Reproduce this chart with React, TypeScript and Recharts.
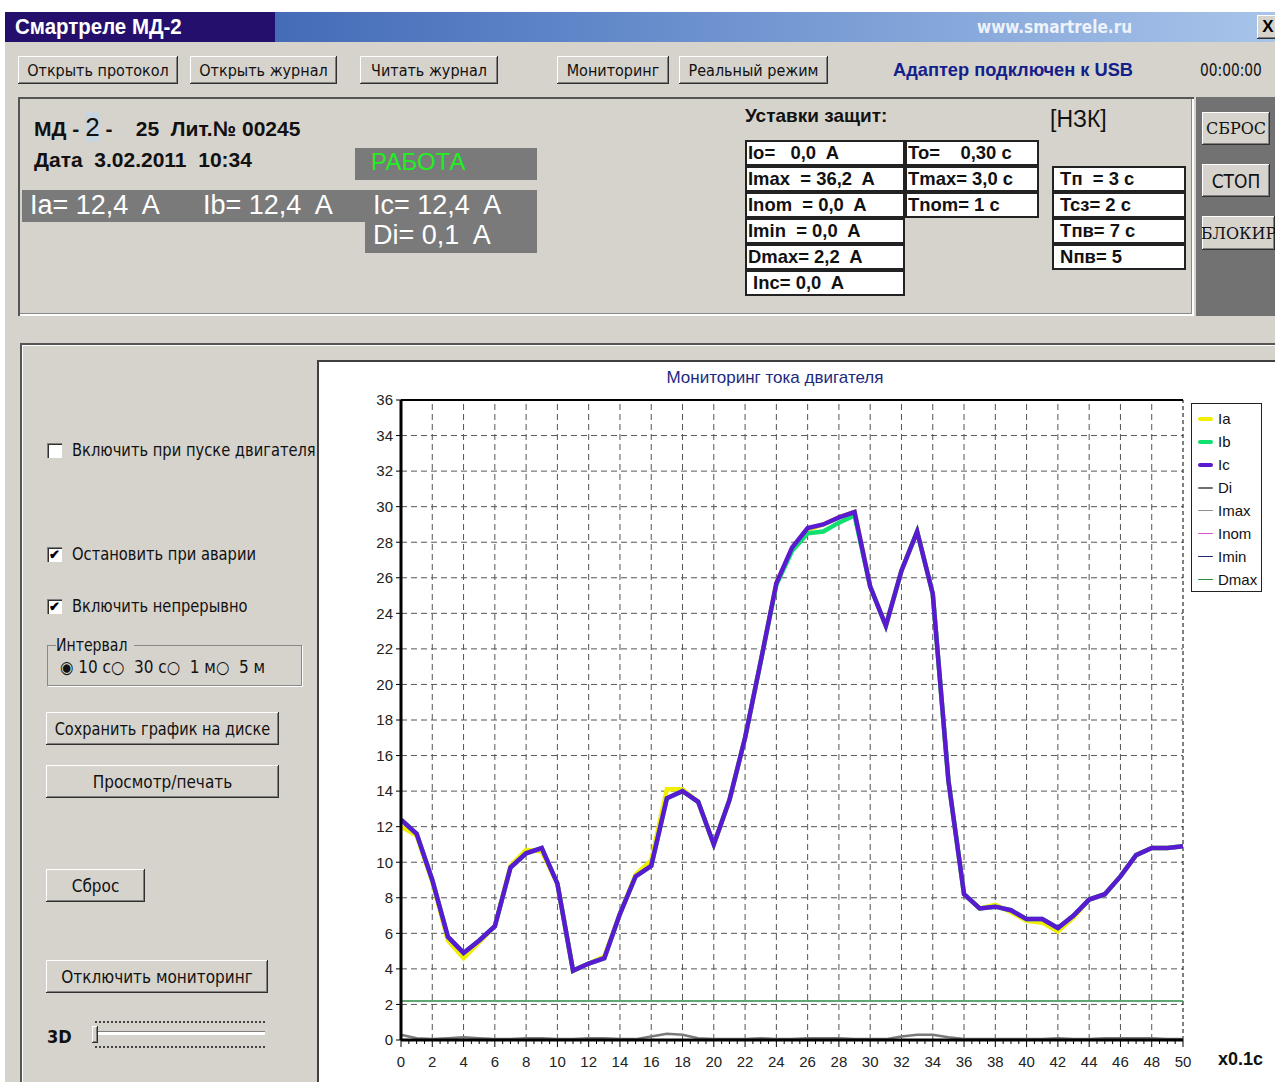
import React from 'react';
import { LineChart, Line, XAxis, YAxis, CartesianGrid, ReferenceLine } from 'recharts';

// time axis, x0.1 s
const T = [
  0, 1, 2, 3, 4, 5, 6, 7, 8, 9, 10, 11, 12, 13, 14, 15, 16, 17, 18, 19, 20, 21, 22, 23, 24, 25,
  26, 27, 28, 29, 30, 31, 32, 33, 34, 35, 36, 37, 38, 39, 40, 41, 42, 43, 44, 45, 46, 47, 48, 49, 50,
];
const IA = [
  12.0, 11.5, 8.9, 5.6, 4.6, 5.5, 6.4, 9.8, 10.7, 10.6, 8.8, 3.9, 4.3, 4.7, 7.1, 9.3, 10.1, 14.1, 14.1, 13.4,
  11.0, 13.5, 17.0, 21.3, 25.7, 27.6, 28.7, 29.0, 29.4, 29.7, 25.5, 23.3, 26.4, 28.6, 25.1, 14.6, 8.2, 7.4,
  7.6, 7.2, 6.7, 6.6, 6.1, 6.9, 7.9, 8.2, 9.2, 10.4, 10.8, 10.8, 10.9,
];
const IB = [
  12.4, 11.6, 9.0, 5.8, 4.9, 5.6, 6.4, 9.7, 10.5, 10.8, 8.8, 3.9, 4.3, 4.6, 7.1, 9.2, 9.8, 13.6, 14.0, 13.4,
  11.0, 13.5, 17.0, 21.3, 25.6, 27.5, 28.5, 28.6, 29.1, 29.5, 25.5, 23.3, 26.4, 28.6, 25.1, 14.6, 8.2, 7.4,
  7.5, 7.3, 6.8, 6.8, 6.3, 7.0, 7.9, 8.2, 9.2, 10.4, 10.8, 10.8, 10.9,
];
const IC = [
  12.4, 11.6, 9.0, 5.8, 4.9, 5.6, 6.4, 9.7, 10.5, 10.8, 8.8, 3.9, 4.3, 4.6, 7.1, 9.2, 9.8, 13.6, 14.0, 13.4,
  11.0, 13.5, 17.0, 21.3, 25.7, 27.7, 28.8, 29.0, 29.4, 29.7, 25.5, 23.3, 26.4, 28.6, 25.1, 14.6, 8.2, 7.4,
  7.5, 7.3, 6.8, 6.8, 6.3, 7.0, 7.9, 8.2, 9.2, 10.4, 10.8, 10.8, 10.9,
];
const DI = [
  0.3, 0.1, 0.05, 0.1, 0.15, 0.1, 0.05, 0.05, 0.1, 0.1, 0.05, 0.05, 0.1, 0.1, 0.05, 0.05, 0.2, 0.35, 0.3, 0.1,
  0.05, 0.05, 0.05, 0.1, 0.05, 0.05, 0.1, 0.1, 0.1, 0.05, 0.05, 0.05, 0.2, 0.3, 0.3, 0.15, 0.05, 0.05,
  0.05, 0.05, 0.05, 0.05, 0.1, 0.05, 0.05, 0.1, 0.1, 0.1, 0.1, 0.05, 0.05,
];
const DMAX = 2.2;
const IMAX = 36.2;

const X_LABELS = [0, 2, 4, 6, 8, 10, 12, 14, 16, 18, 20, 22, 24, 26, 28, 30, 32, 34, 36, 38, 40, 42, 44, 46, 48, 50];
const Y_TICKS = [0, 2, 4, 6, 8, 10, 12, 14, 16, 18, 20, 22, 24, 26, 28, 30, 32, 34, 36];
const X_TICKS = Array.from({ length: 101 }, (_, i) => i / 2);

const LEGEND = [
  { name: 'Ia', color: '#f2ee00', w: 4 },
  { name: 'Ib', color: '#10e070', w: 4 },
  { name: 'Ic', color: '#5a1ad2', w: 4 },
  { name: 'Di', color: '#707070', w: 2 },
  { name: 'Imax', color: '#909090', w: 1 },
  { name: 'Inom', color: '#e050c8', w: 1 },
  { name: 'Imin', color: '#1c2c70', w: 1 },
  { name: 'Dmax', color: '#2a8a40', w: 1 },
];

const rows = T.map((t, i) => ({ t, ia: IA[i], ib: IB[i], ic: IC[i], di: DI[i] }));

const UI = '"DejaVu Sans Condensed", "Liberation Sans", sans-serif';
const ARIAL = '"Liberation Sans", Arial, sans-serif';
const BG = '#d6d3cd';

const raised: React.CSSProperties = {
  background: BG,
  boxShadow: 'inset -1px -1px #303030, inset 1px 1px #ffffff, inset -2px -2px #808080',
};

// squeeze text horizontally a little
function N({ children, sx = 0.85, origin = 'left center' }: any) {
  return (
    <span style={{ display: 'inline-block', transform: `scaleX(${sx})`, transformOrigin: origin, whiteSpace: 'pre' }}>
      {children}
    </span>
  );
}

function Btn({ x, y, w, h, label, size = 16, font = UI }: any) {
  return (
    <div
      style={{
        ...raised,
        position: 'absolute',
        left: x,
        top: y,
        width: w,
        height: h,
        display: 'flex',
        alignItems: 'center',
        justifyContent: 'center',
        fontFamily: font,
        fontSize: size,
        color: '#111',
        whiteSpace: 'nowrap',
        overflow: 'hidden',
      }}
    >
      {label}
    </div>
  );
}

function Cell({ x, y, w, text }: any) {
  return (
    <div
      style={{
        position: 'absolute',
        left: x,
        top: y,
        width: w,
        height: 26,
        boxSizing: 'border-box',
        border: '2px solid #222',
        background: '#fff',
        fontFamily: ARIAL,
        fontWeight: 'bold',
        fontSize: 19,
        lineHeight: '22px',
        paddingLeft: 1,
        whiteSpace: 'pre',
        color: '#111',
        overflow: 'hidden',
      }}
    >
      <N sx={0.97}>{text}</N>
    </div>
  );
}

function Check({ y, label, checked }: any) {
  return (
    <>
      <div
        style={{
          position: 'absolute',
          left: 47,
          top: y - 8,
          width: 15,
          height: 15,
          background: '#fff',
          boxShadow: 'inset 1px 1px #808080, inset 2px 2px #303030, inset -1px -1px #fff',
          fontSize: 13,
          lineHeight: '15px',
          textAlign: 'center',
          fontWeight: 'bold',
        }}
      >
        {checked ? '✔' : ''}
      </div>
      <div style={{ position: 'absolute', left: 72, top: y - 11, fontFamily: UI, fontSize: 17, color: '#111', whiteSpace: 'nowrap' }}>
        <N sx={0.96}>{label}</N>
      </div>
    </>
  );
}

const XTick = (props: any) => {
  const { x, y, payload } = props;
  const v = payload.value;
  const major = v % 2 === 0;
  return (
    <g>
      <line x1={x} x2={x} y1={y} y2={y + (major ? 7 : 4)} stroke="#000" strokeWidth={1} />
      {major && (
        <text x={x} y={y + 27} textAnchor="middle" fontFamily={ARIAL} fontSize={15} fill="#222">
          {v}
        </text>
      )}
    </g>
  );
};

function Chart() {
  return (
    <LineChart width={958} height={722} data={rows} margin={{ top: 40, right: 92, bottom: 12, left: 50 }}>
      <CartesianGrid vertical={false} stroke="#555" strokeDasharray="6 4" />
      {X_LABELS.filter((v) => v > 0 && v < 50).map((v) => (
        <ReferenceLine key={v} x={v} stroke="#555" strokeDasharray="6 4" />
      ))}
      <ReferenceLine y={36} stroke="#000" strokeWidth={2} />
      <ReferenceLine x={50} stroke="#000" strokeDasharray="4 3" />
      <ReferenceLine y={IMAX} stroke="#909090" />
      <ReferenceLine y={DMAX} stroke="#2a8a40" strokeWidth={1.5} />
      <XAxis
        dataKey="t"
        type="number"
        domain={[0, 50]}
        ticks={X_TICKS}
        interval={0}
        height={30}
        tickSize={0}
        tickMargin={0}
        tickLine={false}
        tick={<XTick />}
        axisLine={{ stroke: '#000', strokeWidth: 3 }}
      />
      <YAxis
        type="number"
        domain={[0, 36]}
        ticks={Y_TICKS}
        interval={0}
        width={34}
        tickSize={5}
        tickMargin={3}
        tickLine={{ stroke: '#000' }}
        tick={{ fontFamily: ARIAL, fontSize: 15, fill: '#222' }}
        axisLine={{ stroke: '#000', strokeWidth: 3 }}
      />
      <Line type="linear" dataKey="di" stroke="#7a7a7a" strokeWidth={2.5} dot={false} isAnimationActive={false} />
      <Line type="linear" dataKey="ia" stroke="#f2ee00" strokeWidth={4.5} dot={false} isAnimationActive={false} />
      <Line type="linear" dataKey="ib" stroke="#10e070" strokeWidth={4.5} dot={false} isAnimationActive={false} />
      <Line type="linear" dataKey="ic" stroke="#5a1ad2" strokeWidth={4.5} dot={false} isAnimationActive={false} />
    </LineChart>
  );
}

export default function App() {
  return (
    <div style={{ position: 'absolute', left: 0, top: 0, width: 1275, height: 1082, background: '#fff', overflow: 'hidden' }}>
      {/* title bar */}
      <div
        style={{
          position: 'absolute',
          left: 5,
          top: 12,
          width: 1270,
          height: 30,
          background: 'linear-gradient(90deg, #2c54a8 0%, #5f86c8 45%, #a8c4ea 100%)',
        }}
      >
        <div
          style={{
            position: 'absolute',
            left: 0,
            top: 0,
            width: 270,
            height: 30,
            background: '#24106c',
            color: '#fff',
            fontFamily: ARIAL,
            fontWeight: 'bold',
            fontSize: 22,
            lineHeight: '30px',
            paddingLeft: 10,
            boxSizing: 'border-box',
          }}
        >
          <N sx={0.93}>Смартреле МД-2</N>
        </div>
        <div style={{ position: 'absolute', left: 972, top: 5, color: '#eef2fa', fontFamily: UI, fontWeight: 'bold', fontSize: 17 }}>
          www.smartrele.ru
        </div>
        <div
          style={{
            ...raised,
            position: 'absolute',
            left: 1252,
            top: 3,
            width: 22,
            height: 24,
            fontFamily: ARIAL,
            fontWeight: 'bold',
            fontSize: 17,
            lineHeight: '24px',
            textAlign: 'center',
          }}
        >
          X
        </div>
      </div>

      {/* window body */}
      <div style={{ position: 'absolute', left: 5, top: 42, width: 1270, height: 1040, background: BG }} />

      {/* toolbar */}
      <Btn x={18} y={56} w={160} h={28} label="Открыть протокол" />
      <Btn x={190} y={56} w={147} h={28} label="Открыть журнал" />
      <Btn x={360} y={56} w={138} h={28} label="Читать журнал" />
      <Btn x={557} y={56} w={112} h={28} label="Мониторинг" />
      <Btn x={679} y={56} w={149} h={28} label="Реальный режим" />
      <div style={{ position: 'absolute', left: 893, top: 59, color: '#14208a', fontFamily: ARIAL, fontWeight: 'bold', fontSize: 19 }}>
        <N sx={0.96}>Адаптер подключен к USB</N>
      </div>
      <div style={{ position: 'absolute', left: 1200, top: 60, color: '#111', fontFamily: UI, fontSize: 17 }}>
        <N sx={0.9}>00:00:00</N>
      </div>

      {/* info panel */}
      <div
        style={{
          position: 'absolute',
          left: 18,
          top: 97,
          width: 1176,
          height: 219,
          boxSizing: 'border-box',
          boxShadow: 'inset 2px 2px #555, inset -2px -2px #fff, inset -3px -3px #888',
        }}
      />
      <div style={{ position: 'absolute', left: 34, top: 112, fontFamily: ARIAL, fontWeight: 'bold', fontSize: 21, color: '#111', whiteSpace: 'pre' }}>
        МД - <span style={{ background: '#c8d4e0', fontSize: 26, fontWeight: 'normal' }}>2</span> -    25  Лит.№ 00245
      </div>
      <div style={{ position: 'absolute', left: 34, top: 148, fontFamily: ARIAL, fontWeight: 'bold', fontSize: 21, color: '#111', whiteSpace: 'pre' }}>
        Дата  3.02.2011  10:34
      </div>
      <div
        style={{
          position: 'absolute',
          left: 355,
          top: 148,
          width: 182,
          height: 32,
          background: '#7a7a7a',
          color: '#22ee22',
          fontFamily: ARIAL,
          fontSize: 24,
          lineHeight: '28px',
          paddingLeft: 16,
          boxSizing: 'border-box',
        }}
      >
        РАБОТА
      </div>
      <div style={{ position: 'absolute', left: 22, top: 190, width: 343, height: 32, background: '#7a7a7a' }} />
      <div style={{ position: 'absolute', left: 365, top: 190, width: 172, height: 63, background: '#7a7a7a' }} />
      <div style={{ position: 'absolute', left: 30, top: 190, color: '#fff', fontFamily: ARIAL, fontSize: 27, whiteSpace: 'pre' }}>
        Ia= 12,4  A
      </div>
      <div style={{ position: 'absolute', left: 203, top: 190, color: '#fff', fontFamily: ARIAL, fontSize: 27, whiteSpace: 'pre' }}>
        Ib= 12,4  A
      </div>
      <div style={{ position: 'absolute', left: 373, top: 190, color: '#fff', fontFamily: ARIAL, fontSize: 27, whiteSpace: 'pre' }}>
        Ic= 12,4  A
      </div>
      <div style={{ position: 'absolute', left: 373, top: 220, color: '#fff', fontFamily: ARIAL, fontSize: 27, whiteSpace: 'pre' }}>
        Di= 0,1  A
      </div>

      <div style={{ position: 'absolute', left: 745, top: 105, fontFamily: ARIAL, fontWeight: 'bold', fontSize: 19, color: '#111' }}>
        Уставки защит:
      </div>
      <div style={{ position: 'absolute', left: 1050, top: 106, fontFamily: ARIAL, fontSize: 23, color: '#111' }}>[НЗК]</div>

      <Cell x={745} y={140} w={160} text={'Io=   0,0  A'} />
      <Cell x={745} y={166} w={160} text={'Imax  = 36,2  A'} />
      <Cell x={745} y={192} w={160} text={'Inom  = 0,0  A'} />
      <Cell x={745} y={218} w={160} text={'Imin  = 0,0  A'} />
      <Cell x={745} y={244} w={160} text={'Dmax= 2,2  A'} />
      <Cell x={745} y={270} w={160} text={' Inc= 0,0  A'} />
      <Cell x={905} y={140} w={134} text={'To=    0,30 c'} />
      <Cell x={905} y={166} w={134} text={'Tmax= 3,0 c'} />
      <Cell x={905} y={192} w={134} text={'Tnom= 1 c'} />
      <Cell x={1052} y={166} w={134} text={' Tп  = 3 c'} />
      <Cell x={1052} y={192} w={134} text={' Tcз= 2 c'} />
      <Cell x={1052} y={218} w={134} text={' Tпв= 7 c'} />
      <Cell x={1052} y={244} w={134} text={' Nпв= 5'} />

      {/* right control strip */}
      <div style={{ position: 'absolute', left: 1196, top: 97, width: 79, height: 219, background: '#727272' }} />
      <Btn x={1202} y={112} w={68} h={33} label="СБРОС" size={16} font={'"DejaVu Serif", serif'} />
      <Btn x={1202} y={164} w={68} h={33} label="СТОП" size={19} />
      <Btn x={1202} y={216} w={73} h={34} label="БЛОКИР" size={16} font={'"DejaVu Serif", serif'} />

      {/* lower panel */}
      <div
        style={{
          position: 'absolute',
          left: 20,
          top: 343,
          width: 1260,
          height: 745,
          boxSizing: 'border-box',
          boxShadow: 'inset 2px 2px #555, inset 3px 3px #fff',
        }}
      />
      <Check y={451} label="Включить при пуске двигателя" checked={false} />
      <Check y={555} label="Остановить при аварии" checked />
      <Check y={607} label="Включить непрерывно" checked />
      <div
        style={{
          position: 'absolute',
          left: 47,
          top: 645,
          width: 255,
          height: 41,
          boxSizing: 'border-box',
          border: '1px solid #888',
          boxShadow: '1px 1px #fff',
        }}
      />
      <div style={{ position: 'absolute', left: 56, top: 635, background: BG, fontFamily: UI, fontSize: 17, color: '#111' }}>
        <N sx={0.92}>Интервал</N>
      </div>
      <div style={{ position: 'absolute', left: 60, top: 657, fontFamily: UI, fontSize: 17, color: '#111', whiteSpace: 'pre' }}>
        ◉ 10 c○  30 c○  1 м○  5 м
      </div>
      <Btn x={46} y={712} w={233} h={33} label={<N sx={0.95} origin="center">Сохранить график на диске</N>} size={17} />
      <Btn x={46} y={765} w={233} h={33} label="Просмотр/печать" size={17} />
      <Btn x={46} y={869} w={99} h={33} label="Сброс" size={17} />
      <Btn x={46} y={960} w={222} h={33} label="Отключить мониторинг" size={17} />
      <div style={{ position: 'absolute', left: 47, top: 1026, fontFamily: UI, fontWeight: 'bold', fontSize: 18, color: '#111' }}>3D</div>
      <div style={{ position: 'absolute', left: 95, top: 1021, width: 170, height: 4, borderTop: '2px dotted #444' }} />
      <div style={{ position: 'absolute', left: 95, top: 1031, width: 170, height: 4, background: '#fff', boxShadow: 'inset 1px 1px #808080' }} />
      <div style={{ position: 'absolute', left: 95, top: 1046, width: 170, height: 4, borderTop: '2px dotted #444' }} />
      <div style={{ ...raised, position: 'absolute', left: 92, top: 1026, width: 6, height: 17 }} />

      {/* chart */}
      <div
        style={{
          position: 'absolute',
          left: 317,
          top: 360,
          width: 958,
          height: 722,
          background: '#fff',
          boxShadow: 'inset 2px 2px #404040',
        }}
      >
        <Chart />
        <div
          style={{
            position: 'absolute',
            left: 0,
            width: 916,
            top: 8,
            textAlign: 'center',
            fontFamily: ARIAL,
            fontSize: 17,
            color: '#1c2a80',
          }}
        >
          Мониторинг тока двигателя
        </div>
        <div
          style={{
            position: 'absolute',
            left: 874,
            top: 43,
            width: 71,
            height: 189,
            boxSizing: 'border-box',
            border: '1px solid #222',
            background: '#fff',
            paddingTop: 3,
          }}
        >
          {LEGEND.map((l) => (
            <div key={l.name} style={{ display: 'flex', alignItems: 'center', height: 23, fontFamily: ARIAL, fontSize: 15, color: '#111' }}>
              <span style={{ display: 'inline-block', width: 15, height: l.w, background: l.color, marginLeft: 6, marginRight: 5, borderRadius: 2 }} />
              {l.name}
            </div>
          ))}
        </div>
        <div style={{ position: 'absolute', left: 901, top: 689, fontFamily: ARIAL, fontWeight: 'bold', fontSize: 18, color: '#111' }}>
          x0.1c
        </div>
      </div>
    </div>
  );
}
